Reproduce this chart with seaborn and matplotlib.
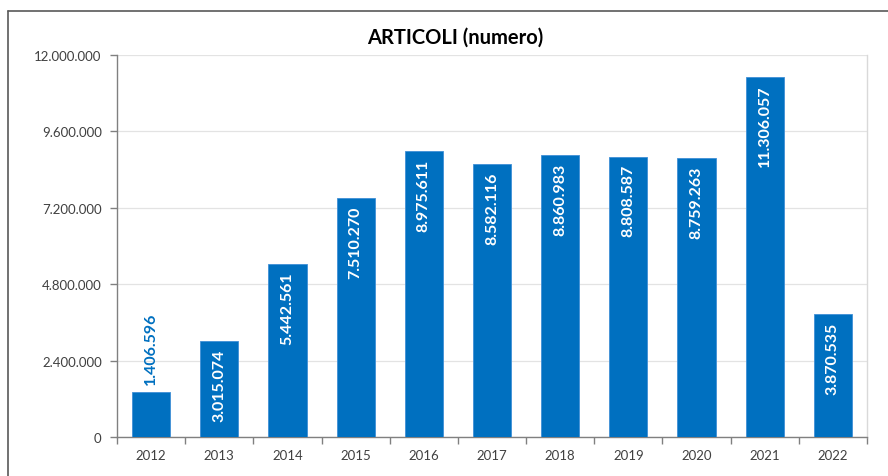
import matplotlib
matplotlib.use("Agg")
import matplotlib.pyplot as plt
from matplotlib.lines import Line2D
from matplotlib.ticker import FixedLocator, FuncFormatter
import seaborn as sns
import pandas as pd

years = ["2012", "2013", "2014", "2015", "2016", "2017", "2018", "2019", "2020", "2021", "2022"]
articoli = [1406596, 3015074, 5442561, 7510270, 8975611, 8582116, 8860983, 8808587, 8759263, 11306057, 3870535]
y_ticks = [0, 2400000, 4800000, 7200000, 9600000, 12000000]
title = "ARTICOLI (numero)"

BLUE = "#0070C0"
TEXT = "#404040"

sns.set_theme(style="white")
plt.rcParams["font.family"] = ["Lato", "DejaVu Sans"]


def it_fmt(v):
    return f"{int(v):,}".replace(",", ".")


df = pd.DataFrame({"anno": years, "articoli": articoli})

fig = plt.figure(figsize=(8.88, 4.77), dpi=100)
ax = fig.add_axes([117 / 888, 1 - 438 / 477, 750 / 888, (438 - 56) / 477])

sns.barplot(data=df, x="anno", y="articoli", color=BLUE, saturation=1,
            width=0.56, edgecolor="#3F8FD6", linewidth=0.6, ax=ax, zorder=3)

ax.set_xlim(-0.5, len(years) - 0.5)
ax.set_ylim(0, y_ticks[-1])
ax.yaxis.set_major_locator(FixedLocator(y_ticks))
ax.yaxis.set_major_formatter(FuncFormatter(lambda v, p: it_fmt(v)))
ax.grid(axis="y", color="#E3E3E3", linewidth=0.9, zorder=0)
ax.set_axisbelow(True)

# tick marks on category boundaries, labels centred under bars
ax.xaxis.set_minor_locator(FixedLocator([i - 0.5 for i in range(len(years) + 1)]))
ax.tick_params(axis="x", which="major", length=0, pad=9, labelsize=9.5, labelcolor=TEXT)
ax.tick_params(axis="x", which="minor", length=5, width=1, color="#808080", direction="out", bottom=True)
ax.tick_params(axis="y", which="major", length=5, width=1, color="#808080", direction="out",
               left=True, pad=6, labelsize=9.5, labelcolor=TEXT)
ax.set_xlabel("")
ax.set_ylabel("")

for side in ["left", "bottom"]:
    ax.spines[side].set_color("#808080")
    ax.spines[side].set_linewidth(1)
ax.spines["top"].set_visible(False)
ax.spines["right"].set_color("#D9D9D9")
ax.spines["right"].set_linewidth(1)

# value labels: inside the top of each bar, above the bar if it is too short
for i, v in enumerate(articoli):
    label = it_fmt(v)
    if v < 2000000:
        ax.annotate(label, xy=(i, v), xytext=(0, 6), textcoords="offset points",
                    rotation=90, ha="center", va="bottom", color=BLUE,
                    fontsize=11.5, fontweight="bold", zorder=4)
    else:
        ax.annotate(label, xy=(i, v), xytext=(0, -5.5), textcoords="offset points",
                    rotation=90, ha="center", va="top", color="white",
                    fontsize=11.5, fontweight="bold", zorder=4)

fig.text(455 / 888, 1 - 38 / 477, title, ha="center", va="center",
         fontsize=14.5, fontweight="bold", color="black")

# outer chart frame
fig.add_artist(Line2D([8 / 888, 1], [1 - 12 / 477, 1 - 12 / 477], transform=fig.transFigure,
                      color="#595959", linewidth=1.2))
fig.add_artist(Line2D([8 / 888, 8 / 888], [0, 1 - 12 / 477], transform=fig.transFigure,
                      color="#595959", linewidth=1.2))

fig.savefig("out.png", dpi=100)
